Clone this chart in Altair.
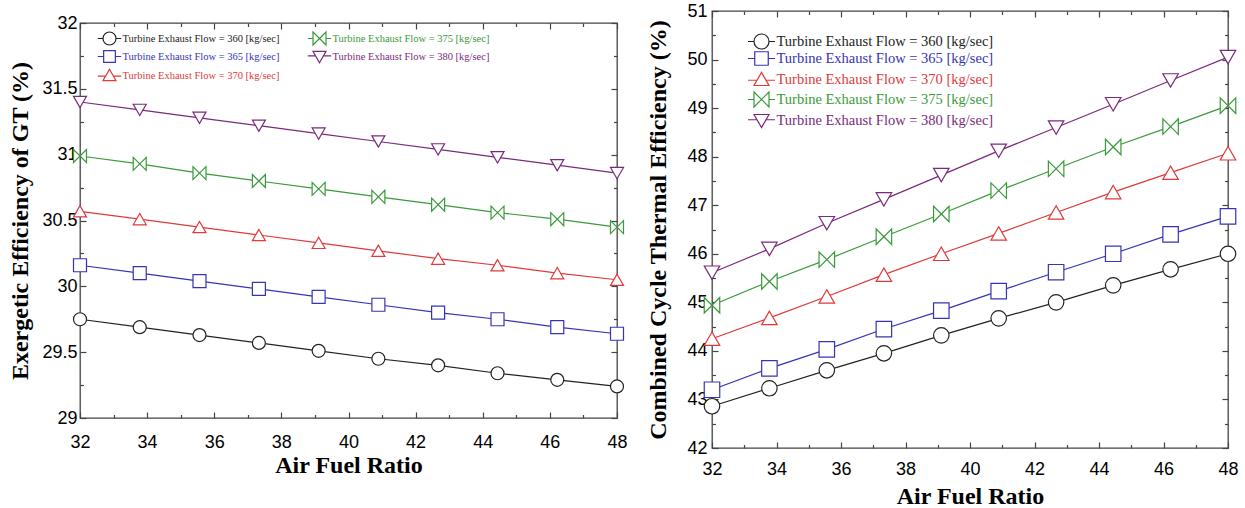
import altair as alt
import pandas as pd

# ---------------- data ----------------
afr = [32, 33.78, 35.56, 37.33, 39.11, 40.89, 42.67, 44.44, 46.22, 48]
flows = ["360", "365", "370", "375", "380"]

ex_360 = [29.75, 29.69, 29.63, 29.57, 29.51, 29.45, 29.40, 29.34, 29.29, 29.24]
ex_365 = [30.16, 30.10, 30.04, 29.98, 29.92, 29.86, 29.80, 29.75, 29.69, 29.64]
ex_370 = [30.57, 30.51, 30.45, 30.39, 30.33, 30.27, 30.21, 30.16, 30.10, 30.05]
ex_375 = [30.99, 30.93, 30.86, 30.80, 30.74, 30.68, 30.62, 30.56, 30.51, 30.45]
ex_380 = [31.40, 31.34, 31.28, 31.22, 31.16, 31.10, 31.04, 30.98, 30.92, 30.86]

cc_360 = [42.86, 43.23, 43.60, 43.95, 44.32, 44.67, 45.00, 45.35, 45.68, 46.00]
cc_365 = [43.20, 43.64, 44.03, 44.45, 44.83, 45.23, 45.62, 46.00, 46.40, 46.77]
cc_370 = [44.25, 44.68, 45.12, 45.57, 46.00, 46.42, 46.85, 47.27, 47.67, 48.07]
cc_375 = [44.94, 45.43, 45.88, 46.35, 46.82, 47.30, 47.75, 48.20, 48.62, 49.05]
cc_380 = [45.61, 46.10, 46.63, 47.12, 47.62, 48.12, 48.60, 49.08, 49.57, 50.05]

colors = ["#222222", "#3434b4", "#e0393b", "#3a9a3a", "#7a2a7a"]
labels = [f"Turbine Exhaust Flow = {f} [kg/sec]" for f in flows]

x_major = [32, 34, 36, 38, 40, 42, 44, 46, 48]
x_minor = [33, 35, 37, 39, 41, 43, 45, 47]
ex_major = [29, 29.5, 30, 30.5, 31, 31.5, 32]
ex_minor = [29.25, 29.75, 30.25, 30.75, 31.25, 31.75]
cc_major = [42, 43, 44, 45, 46, 47, 48, 49, 50, 51]
cc_minor = [42.5, 43.5, 44.5, 45.5, 46.5, 47.5, 48.5, 49.5, 50.5]

BOWTIE = "M-1,-1L1,1L1,-1L-1,1Z"
plot_shapes = ["circle", "square", "triangle-up", BOWTIE, "triangle-down"]
E = 1.8
leg_shapes = [
    f"M-{E},0L-1,0M1,0L{E},0M-1,0A1,1 0 1,1 1,0A1,1 0 1,1 -1,0Z",
    f"M-{E},0L-0.9,0M0.9,0L{E},0M-0.9,-0.9L0.9,-0.9L0.9,0.9L-0.9,0.9Z",
    f"M-{E},0.1L-0.6,0.1M0.6,0.1L{E},0.1M0,-0.95L1,0.8L-1,0.8Z",
    f"M-{E},0L-1,0M1,0L{E},0M-1,-1L1,1L1,-1L-1,1Z",
    f"M-{E},-0.1L-0.6,-0.1M0.6,-0.1L{E},-0.1M0,0.95L1,-0.8L-1,-0.8Z",
]

# legend entry placement (pixels inside each plot area)
left_leg_x = [22, 22, 22, 232, 232]
left_leg_y = [8, 26, 45, 8, 26]
right_leg_x = [41, 41, 41, 41, 41]
right_leg_y = [22, 39, 60, 80, 101]


def long_df(series):
    rows = []
    for lab, vals in zip(labels, series):
        for a, v in zip(afr, vals):
            rows.append({"afr": a, "val": v, "series": lab})
    return pd.DataFrame(rows)


def panel(df, ydom, ymaj, ymin, W, H, ytitle, legx, legy, leg, msize,
          tick_fs, title_fs, xlab_pad, ylab_pad, xtitle_pad, ytitle_pad):
    xs = alt.Scale(domain=[32, 48], nice=False, zero=False)
    ys = alt.Scale(domain=ydom, nice=False, zero=False)

    x_main = alt.X("afr:Q", scale=xs, axis=alt.Axis(
        orient="bottom", values=x_major, title="Air Fuel Ratio", tickSize=0,
        domain=False, labelFont="Liberation Sans", labelFontSize=tick_fs,
        labelColor="black", labelPadding=xlab_pad, labelFlush=False, labelOverlap=False,
        titleFont="Liberation Serif", titleFontWeight="bold", titleFontSize=title_fs,
        titleColor="black", titlePadding=xtitle_pad, grid=False))
    y_main = alt.Y("val:Q", scale=ys, axis=alt.Axis(
        orient="left", values=ymaj, title=ytitle, tickSize=0, domain=False,
        labelFont="Liberation Sans", labelFontSize=tick_fs, labelColor="black",
        labelPadding=ylab_pad, labelFlush=False, labelOverlap=False,
        format="~g",
        titleFont="Liberation Serif", titleFontWeight="bold", titleFontSize=title_fs,
        titleColor="black", titlePadding=ytitle_pad, grid=False))
    x_none = alt.X("afr:Q", scale=xs, axis=None)
    y_none = alt.Y("val:Q", scale=ys, axis=None)

    base = alt.Chart(df)
    layers = []
    for i, lab in enumerate(labels):
        legend = alt.Legend(
            title=None, orient="none", legendX=legx[i], legendY=legy[i],
            labelFont="Liberation Serif", labelFontSize=leg["fs"], labelColor=colors[i],
            symbolType=leg_shapes[i], symbolSize=leg["size"], symbolStrokeWidth=1.2,
            symbolFillColor="white", symbolOpacity=1, labelOffset=leg["loff"],
            labelLimit=400, padding=0,
        )
        layers.append(
            base.transform_filter(alt.datum.series == lab)
            .mark_line(strokeWidth=1.2)
            .encode(
                x=x_main if i == 0 else x_none,
                y=y_main if i == 0 else y_none,
                stroke=alt.Stroke("series:N", scale=alt.Scale(domain=[lab], range=[colors[i]]),
                                  legend=legend),
            )
        )

    pts = base.mark_point(filled=True, fill="white", size=msize, strokeWidth=1.2, opacity=1).encode(
        x=x_none, y=y_none,
        stroke=alt.Stroke("series:N", scale=alt.Scale(domain=labels, range=colors), legend=None),
        shape=alt.Shape("series:N", scale=alt.Scale(domain=labels, range=plot_shapes), legend=None))
    layers.append(pts)

    def tick_layer(xorient, yorient, xvals, yvals, size):
        ax_common = dict(labels=False, domain=False, title=None, grid=False,
                         tickSize=size, tickColor="#444", tickWidth=1.2)
        return base.mark_line(opacity=0).encode(
            x=alt.X("afr:Q", scale=xs, axis=alt.Axis(orient=xorient, offset=-H, values=xvals, **ax_common)),
            y=alt.Y("val:Q", scale=ys, axis=alt.Axis(orient=yorient, offset=-W, values=yvals, **ax_common)),
        )

    layers += [
        tick_layer("top", "right", x_major, ymaj, 6),
        tick_layer("top", "right", x_minor, ymin, 3.5),
        tick_layer("bottom", "left", x_major, ymaj, 6),
        tick_layer("bottom", "left", x_minor, ymin, 3.5),
    ]
    return (
        alt.layer(*layers)
        .resolve_axis(x="independent", y="independent")
        .resolve_scale(stroke="independent")
        .resolve_legend(stroke="independent")
        .properties(width=W, height=H)
    )


left = panel(
    long_df([ex_360, ex_365, ex_370, ex_375, ex_380]), [29, 32], ex_major, ex_minor,
    537, 395, "Exergetic Efficiency of GT (%)", left_leg_x, left_leg_y,
    dict(fs=10.5, size=169, loff=5.5),
    169, 18, 24, 15, 3, 2, 9,
)

right = panel(
    long_df([cc_360, cc_365, cc_370, cc_375, cc_380]), [42, 51], cc_major, cc_minor,
    516, 437, "Combined Cycle Thermal Efficiency (%)", right_leg_x, right_leg_y,
    dict(fs=14.5, size=225, loff=6.5),
    240, 18, 24, 12, 5, 6, 16,
)

# blank strip that lowers the left panel a little relative to the right one
spacer = alt.Chart(pd.DataFrame({"s": [0]})).mark_point(opacity=0, size=0).encode(
    x=alt.X("s:Q", axis=None), y=alt.Y("s:Q", axis=None)
).properties(width=1, height=1, view=alt.ViewBackground(stroke="transparent"))

chart = alt.hconcat(alt.vconcat(spacer, left, spacing=0), right, spacing=18).configure_view(
    stroke="#444", strokeWidth=1.3
).properties(padding={"left": 8, "top": 1, "right": 5, "bottom": 0}, background="white")

chart.save("out.html", embed_options={"renderer": "svg", "actions": False})
